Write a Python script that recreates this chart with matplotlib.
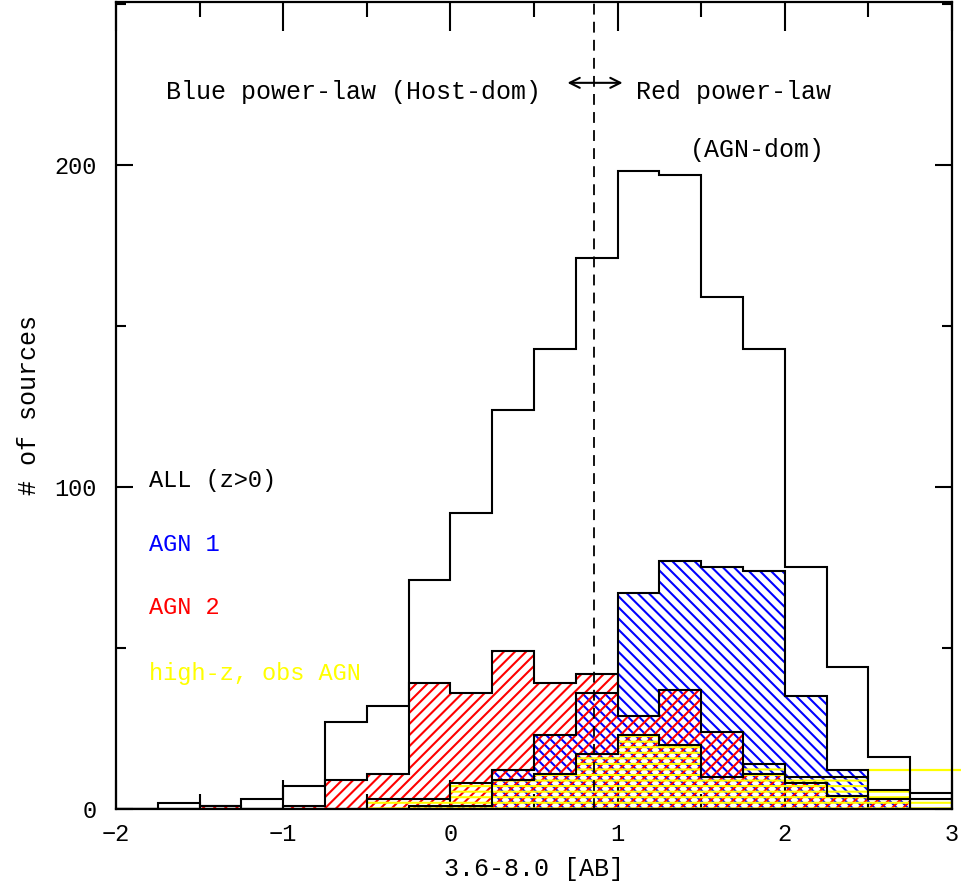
import numpy as np
import matplotlib
matplotlib.use("Agg")
import matplotlib.pyplot as plt
from matplotlib.ticker import MultipleLocator

# ---------------- data ----------------
bin_edges = np.arange(-2.0, 3.0001, 0.25)
all_z = [0, 2, 1, 3, 7, 27, 32, 71, 92, 124, 143, 171, 198, 197, 159, 143, 75, 44, 16, 5]
agn1 = [0, 0, 0, 0, 0, 0, 0, 1, 1, 12, 23, 36, 67, 77, 75, 74, 35, 12, 3, 0]
agn2 = [0, 0, 1, 0, 1, 9, 11, 39, 36, 49, 39, 42, 29, 37, 24, 11, 8, 4, 3, 0]
hiz = [0, 0, 0, 0, 0, 0, 3, 3, 8, 9, 11, 17, 23, 20, 10, 14, 10, 10, 6, 3]
hiz_overflow = 12          # level of the yellow line running off the right edge
hiz_overflow_start = 2.5
divide_x = 0.86

legend_labels = ["ALL (z>0)", "AGN 1", "AGN 2", "high-z, obs AGN"]
legend_colors = ["black", "#0000ff", "#ff0000", "#ffff00"]
legend_y = [102, 82, 62.5, 42]

plt.rcParams["font.family"] = ["Liberation Mono", "DejaVu Sans"]
plt.rcParams["hatch.linewidth"] = 1.5
plt.rcParams["axes.unicode_minus"] = True

fig = plt.figure(figsize=(9.62, 8.90), dpi=100)
ax = fig.add_axes([116 / 962, 1 - 809 / 890, 836 / 962, 807 / 890])

edges = bin_edges
lw = 1.5

# ALL: outline only
ax.stairs(all_z, edges, baseline=0, fill=False, color="black", lw=lw, zorder=3)

# hatched histograms: hatch layer + black outline
for vals, col, hatch in [(agn1, "#0000ff", "\\\\\\"),
                         (agn2, "#ff0000", "///"),
                         (hiz, "#ffff00", "---")]:
    ax.stairs(vals, edges, baseline=0, fill=True, facecolor="none",
              edgecolor=col, hatch=hatch, lw=0, zorder=2)
    ax.stairs(vals, edges, baseline=0, fill=False, color="black", lw=lw, zorder=3)

ax.hlines(hiz_overflow, hiz_overflow_start, 3.07, color="#ffff00", lw=1.6,
          clip_on=False, zorder=2)

# dividing line and arrow
ax.axvline(divide_x, color="black", lw=1.3, dashes=(6, 4), zorder=4)
ax.annotate("", xy=(0.70, 225.5), xytext=(1.03, 225.5),
            arrowprops=dict(arrowstyle="<->", lw=1.5, color="black",
                            shrinkA=0, shrinkB=0, mutation_scale=18))

fs = 18
ax.text(-1.70, 222.5, "Blue power-law (Host-dom)", fontsize=fs, ha="left", va="center")
ax.text(1.11, 222.5, "Red power-law", fontsize=fs, ha="left", va="center")
ax.text(1.43, 204.5, "(AGN-dom)", fontsize=fs, ha="left", va="center")

for lab, c, yy in zip(legend_labels, legend_colors, legend_y):
    ax.text(-1.80, yy, lab, fontsize=17, color=c, ha="left", va="center")

ax.set_xlim(-2, 3)
ax.set_ylim(0, 250.6)
ax.xaxis.set_major_locator(MultipleLocator(1))
ax.xaxis.set_minor_locator(MultipleLocator(0.5))
ax.yaxis.set_major_locator(MultipleLocator(100))
ax.yaxis.set_minor_locator(MultipleLocator(50))
ax.tick_params(which="both", direction="in", top=True, right=True, width=1.5,
               labelsize=17)
ax.tick_params(axis="x", which="major", length=21, pad=10)
ax.tick_params(axis="x", which="minor", length=11)
ax.tick_params(axis="y", which="major", length=12, pad=14)
ax.tick_params(axis="y", which="minor", length=7)
for s in ax.spines.values():
    s.set_linewidth(1.6)

ax.set_xlabel("3.6-8.0 [AB]", fontsize=18)
ax.xaxis.set_label_coords(0.5, -0.06)
ax.set_ylabel("# of sources", fontsize=18)
ax.yaxis.set_label_coords(-0.09, 0.5)

fig.savefig("out.png", dpi=100)
